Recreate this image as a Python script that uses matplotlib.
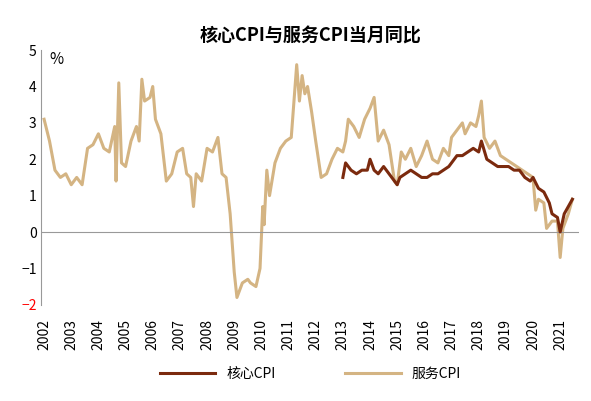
import matplotlib.pyplot as plt

plt.rcParams['font.family'] = ['Noto Sans CJK SC', 'DejaVu Sans']

svc_t = [2002.0, 2002.2, 2002.4, 2002.6, 2002.8, 2003.0, 2003.2, 2003.4, 2003.6, 2003.8, 2004.0, 2004.2, 2004.4,
         2004.6, 2004.65, 2004.75, 2004.85, 2005.0, 2005.2, 2005.4, 2005.5, 2005.6, 2005.7, 2005.9, 2006.0, 2006.1,
         2006.3, 2006.5, 2006.7, 2006.9, 2007.1, 2007.25, 2007.4, 2007.5, 2007.6, 2007.8, 2008.0, 2008.2, 2008.4,
         2008.55, 2008.7, 2008.85, 2009.0, 2009.1, 2009.3, 2009.5, 2009.6, 2009.8, 2009.95, 2010.05, 2010.1, 2010.2,
         2010.3, 2010.5, 2010.7, 2010.9, 2011.1, 2011.3, 2011.4, 2011.5, 2011.6, 2011.7, 2011.85, 2012.0, 2012.2,
         2012.4, 2012.6, 2012.8, 2013.0, 2013.1, 2013.2, 2013.4, 2013.6, 2013.8, 2014.0, 2014.15, 2014.3, 2014.5,
         2014.7, 2014.9, 2015.0, 2015.15, 2015.3, 2015.5, 2015.7, 2015.9, 2016.1, 2016.3, 2016.5, 2016.7, 2016.9,
         2017.0, 2017.2, 2017.4, 2017.5, 2017.7, 2017.9, 2018.0, 2018.1, 2018.2, 2018.4, 2018.6, 2018.8, 2019.0,
         2019.2, 2019.4, 2019.6, 2019.8, 2020.0, 2020.1, 2020.2, 2020.4, 2020.5, 2020.7, 2020.9, 2021.0, 2021.1,
         2021.3, 2021.45]
svc_v = [3.1, 2.5, 1.7, 1.5, 1.6, 1.3, 1.5, 1.3, 2.3, 2.4, 2.7, 2.3, 2.2,
         2.9, 1.4, 4.1, 1.9, 1.8, 2.5, 2.9, 2.5, 4.2, 3.6, 3.7, 4.0, 3.1,
         2.7, 1.4, 1.6, 2.2, 2.3, 1.6, 1.5, 0.7, 1.6, 1.4, 2.3, 2.2, 2.6,
         1.6, 1.5, 0.5, -1.1, -1.8, -1.4, -1.3, -1.4, -1.5, -1.0, 0.7, 0.2, 1.7,
         1.0, 1.9, 2.3, 2.5, 2.6, 4.6, 3.6, 4.3, 3.8, 4.0, 3.3, 2.5, 1.5,
         1.6, 2.0, 2.3, 2.2, 2.5, 3.1, 2.9, 2.6, 3.1, 3.4, 3.7, 2.5, 2.8,
         2.4, 1.4, 1.3, 2.2, 2.0, 2.3, 1.8, 2.1, 2.5, 2.0, 1.9, 2.3, 2.1,
         2.6, 2.8, 3.0, 2.7, 3.0, 2.9, 3.2, 3.6, 2.6, 2.3, 2.5, 2.1, 2.0,
         1.9, 1.8, 1.7, 1.6, 1.5, 0.6, 0.9, 0.8, 0.1, 0.3, 0.3, -0.7, 0.1,
         0.5, 0.9]

core_t = [2013.0, 2013.1, 2013.3, 2013.5, 2013.7, 2013.9, 2014.0, 2014.15, 2014.3, 2014.5, 2014.7, 2014.9, 2015.0,
          2015.1, 2015.3, 2015.5, 2015.7, 2015.9, 2016.1, 2016.3, 2016.5, 2016.7, 2016.9, 2017.0, 2017.2, 2017.4,
          2017.6, 2017.8, 2018.0, 2018.1, 2018.3, 2018.5, 2018.7, 2018.9, 2019.1, 2019.3, 2019.5, 2019.7, 2019.9,
          2020.0, 2020.2, 2020.4, 2020.6, 2020.7, 2020.9, 2021.0, 2021.15, 2021.3, 2021.45]
core_v = [1.5, 1.9, 1.7, 1.6, 1.7, 1.7, 2.0, 1.7, 1.6, 1.8, 1.6, 1.4, 1.3,
          1.5, 1.6, 1.7, 1.6, 1.5, 1.5, 1.6, 1.6, 1.7, 1.8, 1.9, 2.1, 2.1,
          2.2, 2.3, 2.2, 2.5, 2.0, 1.9, 1.8, 1.8, 1.8, 1.7, 1.7, 1.5, 1.4,
          1.5, 1.2, 1.1, 0.8, 0.5, 0.4, 0.0, 0.5, 0.7, 0.9]

years = list(range(2002, 2022))

fig, ax = plt.subplots(figsize=(5.91, 4.01), dpi=100)
fig.subplots_adjust(left=0.07, right=0.98, top=0.875, bottom=0.24)
ax.plot(core_t, core_v, color='#7B2A0E', lw=2.2, label='核心CPI', zorder=3)
ax.plot(svc_t, svc_v, color='#D4B483', lw=2.2, label='服务CPI')

ax.set_xlim(2001.9, 2021.7)
ax.set_ylim(-2, 5)
ax.set_yticks(range(-2, 6))
ax.set_xticks(years)
ax.tick_params(axis='x', length=0, pad=10, labelrotation=90, labelsize=10)
ax.tick_params(axis='y', length=0, labelsize=10)
ax.get_yticklabels()[0].set_color('red')
for s in ['top', 'right', 'bottom']:
    ax.spines[s].set_visible(False)
ax.spines['left'].set_color('#999999')
ax.axhline(0, color='#999999', lw=0.8)
ax.text(2002.2, 4.75, '%', fontsize=11, va='center')
ax.set_title('核心CPI与服务CPI当月同比', fontsize=13, fontweight='bold')
ax.legend(loc='center', bbox_to_anchor=(0.5, -0.27), ncol=2, frameon=False, fontsize=10,
          handlelength=4, columnspacing=5)
fig.savefig('out.png')
